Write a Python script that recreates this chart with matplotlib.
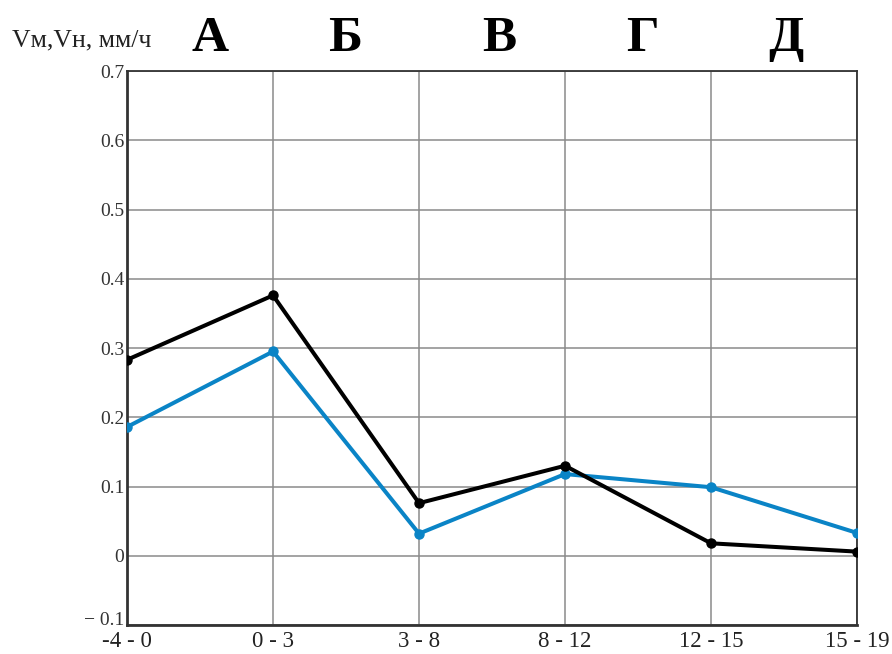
import matplotlib
matplotlib.use("Agg")
import matplotlib.pyplot as plt
from matplotlib.transforms import ScaledTranslation

# Temperature intervals (x categories) and zone letters
categories = ["-4 - 0", "0 - 3", "3 - 8", "8 - 12", "12 - 15", "15 - 19"]
zones = ["А", "Б", "В", "Г", "Д"]
zone_x = [0.57, 1.49, 2.55, 3.53, 4.51]

# Growth rates, mm/h
v_black = [0.283, 0.376, 0.076, 0.130, 0.018, 0.006]
v_blue = [0.186, 0.295, 0.032, 0.118, 0.099, 0.033]

y_ticks = [-0.1, 0.0, 0.1, 0.2, 0.3, 0.4, 0.5, 0.6, 0.7]
y_labels = ["− 0.1", "0", "0.1", "0.2", "0.3", "0.4", "0.5", "0.6", "0.7"]

plt.rcParams["font.family"] = ["Liberation Serif", "DejaVu Serif"]

fig = plt.figure(figsize=(8.92, 6.54), dpi=100)
ax = fig.add_axes([0.1424, 0.0443, 0.9608 - 0.1424, 0.8914 - 0.0443])

x = list(range(len(categories)))
ax.plot(x, v_blue, color="#0a84c6", lw=2.9, marker="o", ms=6.5, zorder=3)
ax.plot(x, v_black, color="black", lw=2.9, marker="o", ms=6.5, zorder=4)

ax.set_xlim(0, len(categories) - 1)
ax.set_ylim(-0.1, 0.7)
ax.set_xticks(x)
ax.set_xticklabels(categories, fontsize=16.5, color="#222222")
ax.set_yticks(y_ticks)
ax.set_yticklabels(y_labels, fontsize=14, color="#333333")
ax.tick_params(length=0, pad=2)
ax.tick_params(axis="x", pad=4)

# lift the lowest y label a little so it clears the first category label
low = ax.get_yticklabels()[0]
low.set_transform(low.get_transform() + ScaledTranslation(0, 0.07, fig.dpi_scale_trans))

ax.grid(True, color="#8a8a8a", lw=1.1)
ax.set_axisbelow(True)
for side, sp in ax.spines.items():
    sp.set_color("#333333")
    sp.set_linewidth(1.3)
ax.spines["left"].set_linewidth(2.0)
ax.spines["bottom"].set_linewidth(2.0)

for zx, z in zip(zone_x, zones):
    ax.text(zx, 0.746, z, fontsize=37, fontweight="bold", ha="center",
            va="center", transform=ax.transData, clip_on=False)

fig.text(12 / 892, 1 - 40 / 654, "Vм,Vн, мм/ч", fontsize=18.5, ha="left",
         va="center", color="#222222")

fig.savefig("out.png", dpi=100)
